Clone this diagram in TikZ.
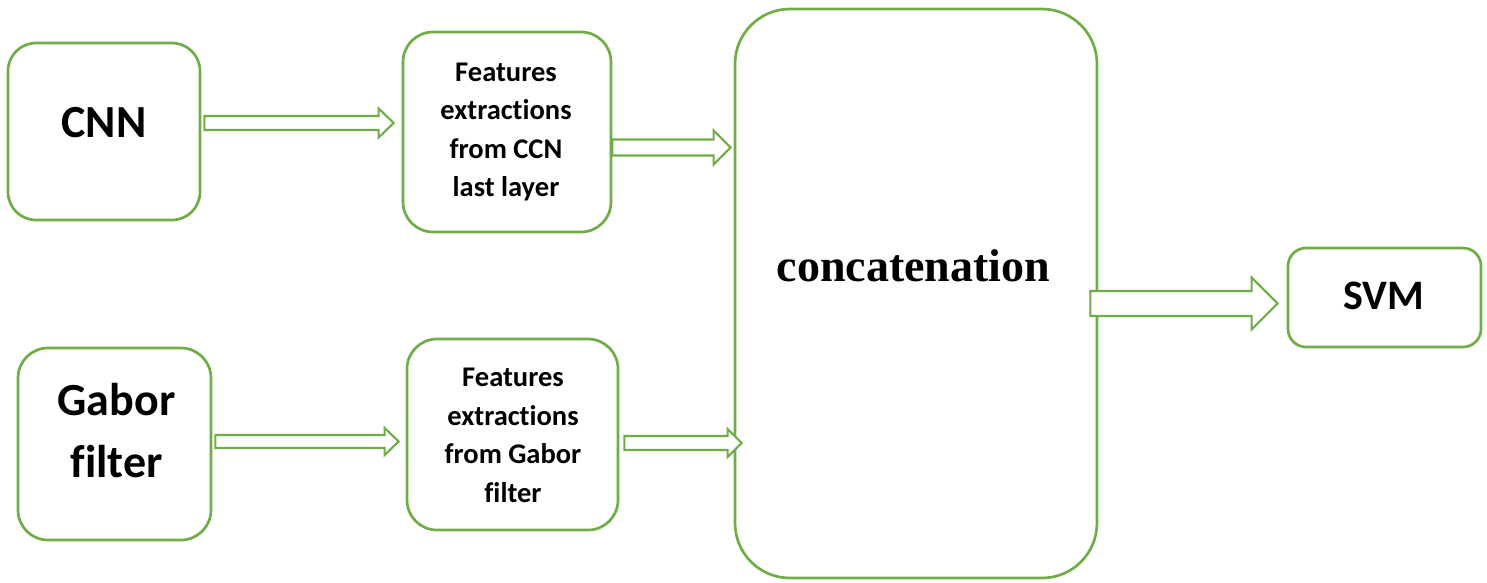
\documentclass[tikz,border=0pt]{standalone}
\usepackage{fontspec}
\setmainfont{Carlito}[Ligatures=NoCommon]
\newfontfamily\titleserif{Liberation Serif}
\usetikzlibrary{calc}

\definecolor{leaf}{HTML}{70AD47}

\tikzset{
  box/.style={draw=leaf, line width=2.7pt, fill=white, inner sep=0pt},
  arrowline/.style={draw=leaf, line width=2.1pt, fill=white, line join=miter},
  bigtxt/.style={font=\fontsize{46}{62}\selectfont\bfseries, align=center, inner sep=0pt},
  smalltxt/.style={font=\fontsize{28.5}{38.5}\selectfont\bfseries, align=center, inner sep=0pt},
}

% hollow block arrow: tail, tip, shaft half-height, head half-height, head length
\newcommand\hollowarrow[5]{%
  \draw[arrowline] let \p1=(#1), \p2=(#2) in
    (\x1,\y1+#3) -- (\x2-#5,\y1+#3) -- (\x2-#5,\y1+#4) -- (\x2,\y1)
    -- (\x2-#5,\y1-#4) -- (\x2-#5,\y1-#3) -- (\x1,\y1-#3) -- cycle;
}

\begin{document}
\begin{tikzpicture}[x=1pt, y=-1pt]
  \useasboundingbox (0,0) rectangle (1487,582);

  % boxes
  \node[box, rounded corners=28pt, minimum width=192pt, minimum height=177pt] (cnn) at (104,131.5) {};
  \node[box, rounded corners=30pt, minimum width=208pt, minimum height=200pt] (fcnn) at (507,132) {};
  \node[box, rounded corners=30pt, minimum width=193pt, minimum height=192pt] (gabor) at (114.5,444) {};
  \node[box, rounded corners=30pt, minimum width=211pt, minimum height=191pt] (fgab) at (512.5,434.5) {};
  \node[box, rounded corners=55pt, minimum width=362pt, minimum height=569pt] (concat) at (916,293.5) {};
  \node[box, rounded corners=18pt, minimum width=193pt, minimum height=99pt] (svm) at (1384.5,297.5) {};

  % labels
  \node[bigtxt, anchor=base] (cnntxt) at ($(cnn.center)+(0,5.5)$) {CNN};
  \node[bigtxt] (gabortxt) at ($(gabor.center)+(2,-13)$) {Gabor\\filter};
  \node[smalltxt] (fcnntxt) at ($(fcnn.center)+(-1,0)$) {Features\\extractions\\from CCN\\last layer};
  \node[smalltxt] (fgabtxt) at ($(fgab.center)+(0.5,1)$) {Features\\extractions\\from Gabor\\filter};
  \node[font=\fontsize{46}{50}\selectfont\titleserif\bfseries, anchor=base, inner sep=0pt] (concattxt)
    at ($(concat.center)+(-2.5,-12.5)$) {concatenation};
  \node[font=\fontsize{42}{50}\selectfont\bfseries, anchor=base, inner sep=0pt] (svmtxt)
    at ($(svm.center)+(-1,11.5)$) {SVM};

  % arrow end points
  \coordinate (a1s) at ($(cnn.east)+(3,-8.5)$);
  \coordinate (a1e) at ($(fcnn.west)+(-8,0)$);
  \coordinate (a2s) at ($(fcnn.east)+(0,15.5)$);
  \coordinate (a2e) at ($(concat.west)+(-3,0)$);
  \coordinate (a3s) at ($(gabor.east)+(3,-2.5)$);
  \coordinate (a3e) at ($(fgab.west)+(-7,0)$);
  \coordinate (a4s) at ($(fgab.east)+(5,8.5)$);
  \coordinate (a4e) at ($(concat.west)+(8,0)$);
  \coordinate (a5s) at ($(concat.east)+(-8,10)$);
  \coordinate (a5e) at ($(svm.west)+(-9,0)$);

  % connectors
  \hollowarrow{a1s}{a1e}{7pt}{14.5pt}{15pt}
  \hollowarrow{a2s}{a2e}{8pt}{17pt}{17pt}
  \hollowarrow{a3s}{a3e}{6.5pt}{13.5pt}{14pt}
  \hollowarrow{a4s}{a4e}{7pt}{14pt}{14pt}
  \hollowarrow{a5s}{a5e}{12.5pt}{26pt}{26pt}
\end{tikzpicture}
\end{document}
